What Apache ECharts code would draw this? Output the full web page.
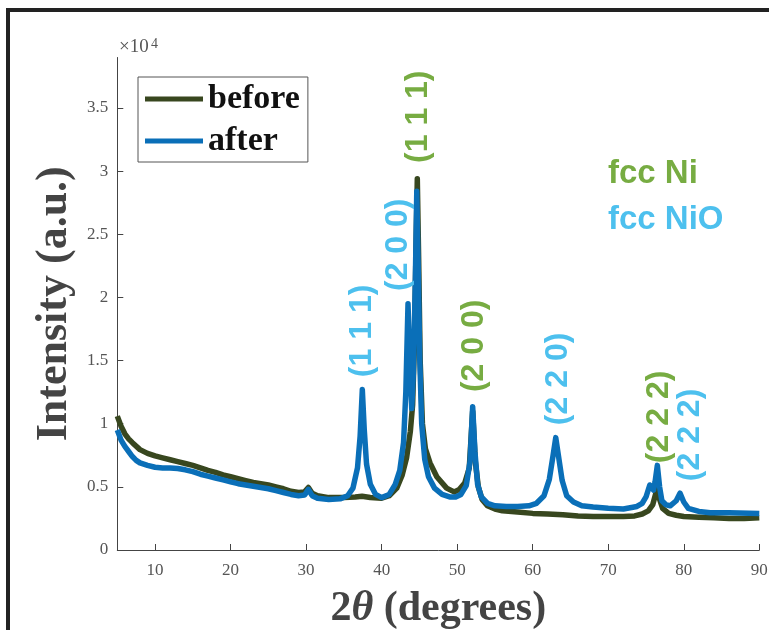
<!DOCTYPE html>
<html><head><meta charset="utf-8">
<script src="https://cdn.jsdelivr.net/npm/echarts@6/dist/echarts.min.js"></script>
<style>html,body{margin:0;padding:0;background:#fff}#c{width:769px;height:630px}</style>
</head><body><div id="c"></div>
<script>
// ---- data ----
const xTicks = [10, 20, 30, 40, 50, 60, 70, 80, 90];
const yTicks = [0, 5000, 10000, 15000, 20000, 25000, 30000, 35000];
const yTickLabels = ['0', '0.5', '1', '1.5', '2', '2.5', '3', '3.5'];
const seriesNames = ['before', 'after'];

const beforeAngle = [5.0,5.5,6.0,6.5,7.0,8.0,9.0,10.0,11.0,12.0,13.0,14.0,15.0,16.0,17.0,18.0,19.0,20.0,21.0,22.0,23.0,24.0,25.0,26.0,27.0,28.0,29.0,29.8,30.3,30.8,31.5,33.0,35.0,36.5,37.4,38.5,40.0,41.0,42.0,42.7,43.3,43.8,44.1,44.35,44.55,44.72,44.9,45.1,45.4,45.8,46.4,47.3,48.6,49.6,50.3,51.0,51.6,52.05,52.4,52.8,53.3,54.0,55.0,56.0,58.0,60.0,62.0,64.0,66.0,68.0,70.0,72.0,73.5,74.5,75.3,75.9,76.3,76.5,76.75,77.2,78.0,79.0,80.0,82.0,84.0,86.0,88.0,90.0];
const beforeCounts = [10600,9800,9200,8800,8500,7950,7650,7450,7300,7150,7000,6850,6700,6500,6300,6150,5950,5800,5650,5500,5350,5250,5150,5000,4850,4650,4550,4600,4950,4500,4300,4150,4150,4200,4250,4150,4100,4300,4900,5900,7300,9400,11500,16500,24000,29400,23000,15000,10000,8000,6900,5800,4900,4600,4800,5300,6500,11000,7000,5000,4000,3500,3250,3100,3000,2900,2850,2800,2700,2650,2650,2650,2700,2850,3100,3600,4500,5000,4100,3300,2900,2750,2650,2600,2550,2500,2500,2550];

const afterAngle = [5.0,5.5,6.0,6.5,7.0,7.5,8.0,9.0,10.0,11.0,12.0,13.0,14.0,15.0,16.0,17.0,18.0,19.0,20.0,21.0,22.0,23.0,24.0,25.0,26.0,27.0,28.0,29.0,29.8,30.3,30.8,31.5,33.0,34.5,35.5,36.2,36.8,37.15,37.44,37.7,38.0,38.5,39.2,40.0,41.0,41.8,42.4,42.9,43.2,43.49,43.75,43.98,44.2,44.45,44.65,44.85,45.05,45.3,45.7,46.2,47.0,48.0,49.0,49.8,50.5,51.2,51.7,52.05,52.35,52.7,53.2,54.0,55.0,56.5,58.0,59.5,60.5,61.5,62.2,62.7,63.05,63.4,63.9,64.5,65.4,66.5,68.0,70.0,72.0,73.8,74.5,75.0,75.5,76.0,76.2,76.5,76.8,77.1,77.6,78.2,79.0,79.5,80.0,80.6,82.0,83.5,86.0,90.0];
const afterCounts = [9500,8700,8200,7800,7400,7100,6900,6700,6550,6500,6500,6450,6350,6200,6000,5850,5700,5550,5400,5250,5150,5050,4950,4850,4700,4550,4400,4300,4350,4800,4300,4100,4000,4050,4300,4900,6500,9000,12700,9500,6800,5200,4400,4150,4400,5200,6300,8500,12500,19500,14500,11200,14000,21000,28400,22000,15000,10000,7200,5800,4900,4400,4200,4200,4400,5100,7000,11350,7800,5200,4200,3700,3500,3450,3450,3500,3700,4300,5600,7500,8900,7500,5500,4300,3800,3500,3400,3300,3250,3450,3700,4200,5150,4750,5400,6700,5000,3900,3600,3500,3900,4500,3800,3300,3050,2950,2950,2900];

const phaseNames = ['fcc Ni', 'fcc NiO'];
const peakLabels = ['(1 1 1)', '(2 0 0)', '(1 1 1)', '(2 0 0)', '(2 2 0)', '(2 2 2)', '(2 2 2)'];
const peakPhase = [1, 1, 0, 0, 1, 0, 1];
const peakAngle = [37.44, 43.49, 44.72, 52.05, 63.05, 76.5, 79.5];

// ---- styles ----
const lineColors = ['#38471f', '#0a6fb8'];
const phaseColors = ['#77ac42', '#4dc0ee'];
const axisColor = '#444';
const serif = 'Liberation Serif, Times New Roman, serif';
const sans = 'Liberation Sans, Arial, sans-serif';

const zip = (a, b) => a.map((v, i) => [v, b[i]]);

const chart = echarts.init(document.getElementById('c'), null, {renderer: 'canvas'});

// label anchor placement (data coordinates of label centres)
const labelAnchors = [
  [37.40, 17350], [42.17, 24170], [44.81, 34310], [52.23, 16165],
  [63.35, 13550], [76.72, 10540], [80.82, 9110]
];

const option = {
  animation: false,
  backgroundColor: '#fff',
  grid: {left: 117.3, right: 9.7, top: 57.5, bottom: 80, containLabel: false, outerBoundsMode: 'none'},
  legend: {
    left: 138, top: 77, orient: 'vertical',
    itemWidth: 58, itemHeight: 5, itemGap: 8,
    padding: [5, 8, 4, 7],
    borderColor: '#555', borderWidth: 1, backgroundColor: '#fff',
    icon: 'rect',
    textStyle: {fontFamily: serif, fontWeight: 'bold', fontSize: 34, lineHeight: 34, color: '#111'},
    data: seriesNames
  },
  xAxis: {
    type: 'value', min: 5, max: 90,
    axisLine: {show: true, lineStyle: {color: axisColor, width: 1}},
    axisTick: {show: true, inside: true, length: 6, customValues: xTicks, lineStyle: {color: axisColor}},
    axisLabel: {customValues: xTicks, color: '#555', fontFamily: serif, fontSize: 17, margin: 12},
    splitLine: {show: false},
    name: '{a|2}{b|θ}{a| (degrees)}',
    nameLocation: 'middle', nameGap: 38,
    nameTextStyle: {
      rich: {
        a: {fontFamily: serif, fontWeight: 'bold', fontSize: 42, color: '#444'},
        b: {fontFamily: serif, fontWeight: 'bold', fontStyle: 'italic', fontSize: 42, color: '#444'}
      }
    }
  },
  yAxis: {
    type: 'value', min: 0, max: 39000,
    axisLine: {show: true, lineStyle: {color: axisColor, width: 1}},
    axisTick: {show: true, inside: true, length: 6, customValues: yTicks, lineStyle: {color: axisColor}},
    axisLabel: {
      customValues: yTicks, color: '#555', fontFamily: serif, fontSize: 17, margin: 9,
      formatter: v => yTickLabels[yTicks.indexOf(v)]
    },
    splitLine: {show: false},
    name: 'Intensity (a.u.)',
    nameLocation: 'middle', nameGap: 30,
    nameTextStyle: {fontFamily: serif, fontWeight: 'bold', fontSize: 44, color: '#444'}
  },
  series: [
    {name: seriesNames[0], type: 'line', data: zip(beforeAngle, beforeCounts), showSymbol: false, symbol: 'none',
     lineStyle: {color: lineColors[0], width: 5.5, join: 'round'}, itemStyle: {color: lineColors[0]}, z: 2},
    {name: seriesNames[1], type: 'line', data: zip(afterAngle, afterCounts), showSymbol: false, symbol: 'none',
     lineStyle: {color: lineColors[1], width: 5.5, join: 'round'}, itemStyle: {color: lineColors[1]}, z: 3}
  ]
};
chart.setOption(option);

const graphics = [
  {type: 'line', shape: {x1: 6, y1: 10, x2: 769, y2: 10}, style: {stroke: '#222', lineWidth: 4}, z: 100},
  {type: 'line', shape: {x1: 8, y1: 8, x2: 8, y2: 630}, style: {stroke: '#222', lineWidth: 4}, z: 100},
  {type: 'text', x: 119, y: 47, style: {text: '×10', font: '19px ' + serif, fill: '#555', verticalAlign: 'middle', align: 'left'}},
  {type: 'text', x: 151, y: 44, style: {text: '4', font: '14px ' + serif, fill: '#555', verticalAlign: 'middle', align: 'left'}},
  {type: 'text', x: 608, y: 173.5, style: {text: phaseNames[0], font: 'bold 33px ' + sans, fill: phaseColors[0], verticalAlign: 'middle', align: 'left'}},
  {type: 'text', x: 608, y: 219.5, style: {text: phaseNames[1], font: 'bold 33px ' + sans, fill: phaseColors[1], verticalAlign: 'middle', align: 'left'}}
];
peakLabels.forEach((t, i) => {
  const p = chart.convertToPixel({gridIndex: 0}, labelAnchors[i]);
  graphics.push({
    type: 'text', x: p[0], y: p[1], rotation: Math.PI / 2,
    style: {text: t, font: 'bold 32px ' + sans, fill: phaseColors[peakPhase[i]], align: 'center', verticalAlign: 'middle'},
    z: 50
  });
});
chart.setOption({graphic: graphics});
</script>
</body></html>
